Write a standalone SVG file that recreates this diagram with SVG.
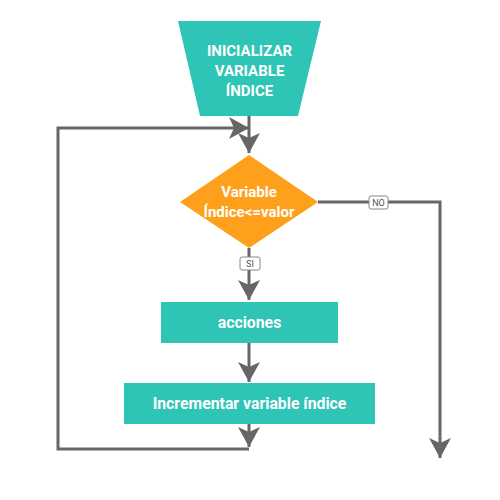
<svg xmlns="http://www.w3.org/2000/svg" width="500" height="500" viewBox="0 0 500 500">
<style>
.t{font-family:Roboto,"Liberation Sans",sans-serif;font-weight:bold;font-size:15px;fill:#fff;text-anchor:middle}
.t2{font-size:15.8px}
.c{fill:none;stroke:#666;stroke-width:3}
.lb{fill:#fff;stroke:#888;stroke-width:1}
.lt{font-family:Roboto,"Liberation Sans",sans-serif;font-size:9px;fill:#555;text-anchor:middle}
.teal{fill:#2EC4B6}
</style>
<defs>
<marker id="a" markerUnits="userSpaceOnUse" markerWidth="22" markerHeight="22" viewBox="0 0 22 22" refX="20" refY="11" orient="auto">
<path d="M0,0 L20,11 L0,22 L5,11 Z" fill="#666"/>
</marker>
</defs>
<rect width="500" height="500" fill="#fff"/>
<g id="connectors">
<path class="c" d="M249,116 V153" marker-end="url(#a)"/>
<path class="c" d="M249,248 V300" marker-end="url(#a)"/>
<path class="c" d="M249,343 V382" marker-end="url(#a)"/>
<path class="c" d="M249,424 V447" marker-end="url(#a)"/>
<path class="c" d="M249,449 H58 V128 H249" marker-end="url(#a)"/>
<path class="c" d="M318,202 H440 V458" marker-end="url(#a)"/>
<g id="label-si"><rect class="lb" x="240" y="257" width="20" height="13" rx="2"/><text class="lt" x="250" y="267">SI</text></g>
<g id="label-no"><rect class="lb" x="369" y="196" width="19" height="13" rx="2"/><text class="lt" x="378.5" y="206">NO</text></g>
</g>
<g id="inicializar">
<path class="teal" d="M178,21 H321 L298,116 H200 Z"/>
<text class="t" x="249.5" y="56">INICIALIZAR</text>
<text class="t" x="249.5" y="76">VARIABLE</text>
<text class="t" x="249.5" y="96">ÍNDICE</text>
</g>
<g id="condicion">
<path d="M249,155 L318,202 L249,248 L180,202 Z" fill="#FFA01C"/>
<text class="t" x="249" y="197">Variable</text>
<text class="t" x="249" y="217">Índice&lt;=valor</text>
</g>
<g id="acciones">
<rect class="teal" x="161" y="302" width="177" height="41"/>
<text class="t t2" x="249.5" y="328">acciones</text>
</g>
<g id="incrementar">
<rect class="teal" x="124" y="383" width="251" height="41"/>
<text class="t t2" x="249.5" y="409">Incrementar variable índice</text>
</g>
</svg>
